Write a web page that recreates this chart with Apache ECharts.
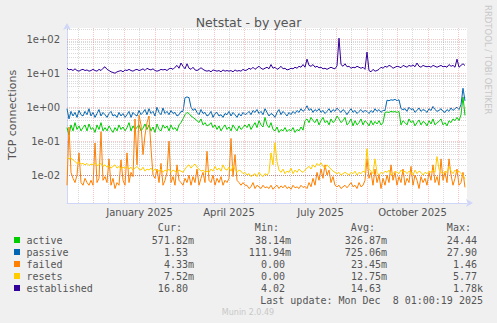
<!DOCTYPE html>
<html>
<head>
<meta charset="utf-8">
<script src="https://cdn.jsdelivr.net/npm/echarts@6/dist/echarts.min.js"></script>
<style>
  html, body { margin: 0; padding: 0; background: #F0F0F0; }
  #chart { width: 497px; height: 323px; }
</style>
</head>
<body>
<div id="chart"></div>
<script>
// Netstat, one sample every two days from 5 Nov 2024
const START = Date.UTC(2024, 10, 5);
const DAY = 86400000;
const STEP_DAYS = 2;

const seriesNames = ['active', 'passive', 'failed', 'resets', 'established'];
const seriesColors = ['#00CC00', '#0066B3', '#FF8000', '#FFCC00', '#330099'];

const active = [
  0.25, 0.15, 0.3, 0.2, 0.35, 0.22, 0.28, 0.2, 0.25, 0.3,
  0.2, 0.32, 0.22, 0.25, 0.18, 0.3, 0.22, 0.35, 0.2, 0.25,
  0.2, 0.28, 0.22, 0.18, 0.25, 0.2, 0.3, 0.22, 0.26, 0.2,
  0.25, 0.35, 0.2, 0.28, 0.22, 0.25, 0.3, 0.2, 0.24, 0.32,
  0.22, 0.3, 0.2, 0.26, 0.18, 0.32, 0.22, 0.2, 0.3, 0.24,
  0.28, 0.2, 0.3, 0.22, 0.25, 0.2, 0.3, 0.35, 0.45, 0.6,
  0.7, 0.65, 0.55, 0.5, 0.45, 0.4, 0.35, 0.45, 0.3, 0.35,
  0.28, 0.3, 0.35, 0.25, 0.3, 0.22, 0.28, 0.2, 0.25, 0.3,
  0.22, 0.26, 0.2, 0.3, 0.24, 0.2, 0.28, 0.22, 0.25, 0.3,
  0.25, 0.32, 0.22, 0.28, 0.35, 0.25, 0.4, 0.3, 0.26, 0.5,
  0.3, 0.25, 0.35, 0.22, 0.2, 0.26, 0.18, 0.22, 0.2, 0.25,
  0.19, 0.22, 0.2, 0.25, 0.18, 0.22, 0.2, 0.26, 0.21, 0.4,
  0.45, 0.35, 0.5, 0.4, 0.35, 0.45, 0.3, 0.4, 0.5, 0.35,
  0.4, 0.3, 0.45, 0.35, 0.4, 0.55, 0.45, 0.35, 0.4, 0.5,
  0.3, 0.35, 0.45, 0.28, 0.4, 0.3, 0.35, 0.45, 0.3, 0.4,
  0.35, 0.28, 0.4, 0.3, 0.38, 0.32, 0.4, 0.3, 0.35, 0.7,
  0.72, 0.7, 0.75, 0.72, 0.74, 0.7, 0.75, 0.3, 0.4, 0.35,
  0.3, 0.45, 0.35, 0.4, 0.28, 0.35, 0.42, 0.3, 0.38, 0.35,
  0.28, 0.4, 0.32, 0.45, 0.3, 0.35, 0.38, 0.45, 0.3, 0.35,
  0.28, 0.4, 0.35, 0.45, 0.4, 0.5, 0.4, 0.6, 2.0, 0.57
];

const passive = [
  0.9, 0.45, 0.75, 0.55, 0.7, 0.5, 0.8, 0.6, 0.55, 0.75,
  0.6, 0.9, 0.55, 0.7, 0.5, 0.65, 0.85, 0.55, 0.7, 0.6,
  0.5, 0.65, 0.75, 0.55, 0.6, 0.5, 0.7, 0.55, 0.65, 0.5,
  0.6, 0.75, 0.5, 0.7, 0.6, 0.55, 0.8, 0.6, 0.7, 0.85,
  0.6, 0.9, 0.65, 0.75, 0.55, 1.0, 0.7, 0.6, 0.95, 0.65,
  0.75, 0.6, 0.8, 0.65, 0.7, 0.55, 0.6, 0.75, 0.75, 1.9,
  2.0, 1.9, 1.0, 0.8, 0.9, 0.7, 0.6, 0.85, 0.65, 0.7,
  0.55, 0.6, 0.75, 0.5, 0.65, 0.7, 0.55, 0.6, 0.5, 0.65,
  0.6, 0.75, 0.55, 0.7, 0.6, 0.5, 0.65, 0.55, 0.7, 0.6,
  0.65, 0.75, 0.6, 0.8, 0.7, 0.85, 0.65, 0.75, 0.6, 0.9,
  0.7, 0.55, 0.65, 0.6, 0.5, 0.7, 0.85, 0.6, 0.75, 0.65,
  0.55, 0.7, 0.6, 0.75, 0.65, 0.8, 0.7, 0.9, 0.75, 0.85,
  1.1, 0.8, 0.9, 0.7, 0.85, 0.75, 0.9, 0.7, 0.8, 0.65,
  0.75, 0.9, 0.7, 0.85, 0.75, 0.95, 0.8, 0.7, 0.85, 0.75,
  0.6, 0.75, 0.9, 0.7, 0.8, 0.65, 0.75, 0.85, 0.7, 0.8,
  0.75, 0.65, 0.8, 0.7, 0.9, 0.75, 0.85, 0.7, 0.8, 0.8,
  1.6, 1.55, 1.65, 1.6, 1.7, 1.55, 1.65, 0.9, 0.85, 0.9,
  0.75, 1.0, 0.85, 0.9, 0.7, 0.8, 0.95, 0.75, 0.85, 0.8,
  0.7, 0.9, 0.8, 1.05, 0.85, 0.75, 0.8, 0.9, 0.75, 0.7,
  0.85, 0.75, 0.95, 0.8, 0.9, 1.0, 0.85, 1.2, 3.6, 1.53
];

const failed = [
  0.005, 0.26, 0.012, 0.008, 0.006, 0.01, 0.045, 0.006, 0.005, 0.008,
  0.006, 0.005, 0.007, 0.005, 0.088, 0.006, 0.008, 0.19, 0.007, 0.009,
  0.006, 0.03, 0.005, 0.008, 0.004, 0.006, 0.005, 0.028, 0.007, 0.005,
  0.045, 0.006, 0.012, 0.009, 0.45, 0.02, 0.58, 0.3, 0.04, 0.15,
  0.35, 0.55, 0.06, 0.01, 0.008, 0.015, 0.006, 0.022, 0.005, 0.007,
  0.012, 0.1, 0.006, 0.009, 0.005, 0.02, 0.007, 0.006, 0.005, 0.008,
  0.006, 0.01, 0.005, 0.009, 0.006, 0.015, 0.005, 0.008, 0.012, 0.006,
  0.05, 0.007, 0.006, 0.01, 0.005, 0.008, 0.006, 0.009, 0.005, 0.007,
  0.006, 0.008, 0.12, 0.009, 0.04, 0.007, 0.006, 0.005, 0.006, 0.005,
  0.005, 0.004, 0.0045, 0.006, 0.004, 0.005, 0.0045, 0.004, 0.005, 0.0042,
  0.0045, 0.004, 0.005, 0.0038, 0.0045, 0.005, 0.004, 0.0048, 0.0042, 0.005,
  0.004, 0.0045, 0.0038, 0.005, 0.0042, 0.0045, 0.004, 0.005, 0.0043, 0.0046,
  0.004, 0.006, 0.0045, 0.008, 0.005, 0.012, 0.007, 0.015, 0.008, 0.02,
  0.01, 0.014, 0.006, 0.009, 0.005, 0.0045, 0.005, 0.004, 0.0045, 0.005,
  0.0042, 0.005, 0.006, 0.0045, 0.005, 0.004, 0.006, 0.0045, 0.005, 0.007,
  0.03, 0.008, 0.012, 0.005, 0.015, 0.006, 0.01, 0.004, 0.008, 0.005,
  0.01, 0.006, 0.02, 0.007, 0.012, 0.005, 0.009, 0.006, 0.015, 0.005,
  0.008, 0.006, 0.018, 0.005, 0.01, 0.007, 0.004, 0.009, 0.006, 0.008,
  0.005, 0.012, 0.007, 0.02, 0.006, 0.009, 0.005, 0.03, 0.007, 0.012,
  0.006, 0.03, 0.01, 0.005, 0.008, 0.015, 0.005, 0.006, 0.012, 0.00433
];

const resets = [
  0.033, 0.03, 0.032, 0.028, 0.025, 0.022, 0.024, 0.021, 0.022, 0.02,
  0.022, 0.019, 0.021, 0.02, 0.023, 0.019, 0.02, 0.022, 0.018, 0.02,
  0.017, 0.019, 0.016, 0.018, 0.02, 0.016, 0.018, 0.015, 0.017, 0.016,
  0.018, 0.015, 0.017, 0.014, 0.016, 0.018, 0.015, 0.014, 0.017, 0.013,
  0.015, 0.014, 0.016, 0.013, 0.015, 0.014, 0.013, 0.015, 0.012, 0.014,
  0.013, 0.015, 0.012, 0.014, 0.013, 0.012, 0.014, 0.013, 0.012, 0.015,
  0.018, 0.02, 0.016, 0.019, 0.021, 0.017, 0.015, 0.013, 0.014, 0.012,
  0.013, 0.012, 0.015, 0.013, 0.018, 0.014, 0.016, 0.013, 0.02, 0.015,
  0.014, 0.017, 0.013, 0.019, 0.015, 0.012, 0.014, 0.013, 0.011, 0.012,
  0.01, 0.011, 0.009, 0.01, 0.011, 0.009, 0.012, 0.01, 0.009, 0.011,
  0.01, 0.012, 0.045, 0.02, 0.09, 0.025, 0.014, 0.012, 0.015, 0.011,
  0.013, 0.012, 0.016, 0.011, 0.014, 0.012, 0.015, 0.013, 0.012, 0.014,
  0.016, 0.018, 0.015, 0.02, 0.017, 0.022, 0.019, 0.023, 0.018, 0.016,
  0.02, 0.017, 0.015, 0.013, 0.012, 0.011, 0.012, 0.01, 0.011, 0.012,
  0.011, 0.01, 0.012, 0.011, 0.013, 0.01, 0.012, 0.011, 0.013, 0.012,
  0.06, 0.015, 0.013, 0.011, 0.03, 0.012, 0.01, 0.012, 0.011, 0.013,
  0.012, 0.014, 0.01, 0.011, 0.013, 0.012, 0.011, 0.014, 0.012, 0.013,
  0.011, 0.013, 0.012, 0.01, 0.014, 0.011, 0.013, 0.012, 0.01, 0.012,
  0.011, 0.013, 0.012, 0.014, 0.012, 0.035, 0.015, 0.012, 0.011, 0.013,
  0.012, 0.018, 0.013, 0.011, 0.014, 0.012, 0.013, 0.011, 0.01, 0.0075
];

const established = [
  14, 12.5, 13, 12, 13.5, 12, 11.5, 12.5, 13, 12,
  12.5, 11.5, 12, 13, 12, 11.5, 13, 12, 14, 15.5,
  13, 12, 11, 10.5, 10, 11, 11.5, 12, 11, 12.5,
  12, 13, 12, 11.5, 12.5, 13, 12, 12.5, 13.5, 12,
  14, 13, 12.5, 13.5, 12, 11.5, 12, 13, 12.5, 13,
  12, 13.5, 14, 13, 15, 17, 14, 20, 16, 13.5,
  19, 14, 13, 15, 12.5, 12, 13, 14.5, 13, 12,
  11.5, 12, 11, 12.5, 12, 11.5, 12, 11, 12.5, 11.5,
  12, 11.5, 12, 11, 12.5, 11.5, 12, 11.5, 13, 12,
  12.5, 14, 13, 15, 13, 14.5, 16, 14, 13, 14,
  15, 13.5, 18, 14, 15, 13, 14, 16, 13.5, 14,
  12.5, 13, 14, 13.5, 15, 14, 16, 15, 18, 15,
  26, 17, 16, 18, 15, 16, 14.5, 15, 13.5, 14,
  13, 14, 15, 14, 13.5, 16.5, 108, 18, 16, 19,
  15.5, 16, 14, 15, 14.5, 16, 15, 14, 15, 13,
  42, 12, 11, 13, 11.5, 12, 13, 15, 14, 16,
  15, 17, 16, 14, 15, 16, 15.5, 14.5, 17, 16,
  15, 17, 16, 17.5, 15.5, 20, 16, 15, 17, 16,
  15.5, 16, 15, 17, 16, 15, 16, 17, 15.5, 16,
  15, 18, 16, 17, 15, 26, 15, 17, 19, 16.8
];

const seriesValues = [active, passive, failed, resets, established];

// Legend statistics
const curVals = ['571.82m', '1.53', '4.33m', '7.52m', '16.80'];
const minVals = ['38.14m', '111.94m', '0.00', '0.00', '4.02'];
const avgVals = ['326.87m', '725.06m', '23.45m', '12.75m', '14.63'];
const maxVals = ['24.44', '27.90', '1.46', '5.77', '1.78k'];
const statHeaders = ['Cur:', 'Min:', 'Avg:', 'Max:'];
const lastUpdate = 'Last update: Mon Dec  8 01:00:19 2025';

// Axis labels
const monthLabels = ['January 2025', 'April 2025', 'July 2025', 'October 2025'];
const monthLabelMonths = [[2025, 0], [2025, 3], [2025, 6], [2025, 9]];
const yTickValues = [0.01, 0.1, 1, 10, 100];

const dayOf = (y, m, d) => (Date.UTC(y, m, d) - START) / DAY;
const X_MAX = 400;
const Y_MIN = 0.0015, Y_MAX = 215;

const labelPos = monthLabelMonths.map(([y, m]) => (dayOf(y, m, 1) + dayOf(y, m + 1, 1)) / 2);

// Grid lines: month starts (major), mid-month (minor), decades and their multiples
const majorX = [], minorX = [];
for (let k = 0; k < 15; k++) {
  const y = 2024 + Math.floor((10 + k) / 12), m = (10 + k) % 12;
  const s = dayOf(y, m, 1), h = dayOf(y, m, 16);
  if (s > 0 && s < X_MAX) majorX.push(s);
  if (h > 0 && h < X_MAX) minorX.push(h);
}
const majorY = [], minorY = [];
for (let e = -3; e <= 2; e++) {
  for (let k = 1; k <= 9; k++) {
    const v = k * Math.pow(10, e);
    if (v <= Y_MIN || v >= Y_MAX) continue;
    (k === 1 ? majorY : minorY).push(v);
  }
}

const FONT = 'DejaVu Sans';
const MONO = 'DejaVu Sans Mono';
const TEXT = '#555555';
const AXIS = '#CFD6F8';
const minorStyle = { color: 'rgba(140,140,140,0.32)', type: 'dotted', width: 1 };
const majorStyle = { color: 'rgba(240,120,120,0.42)', type: 'dotted', width: 1 };

const gridLines = []
  .concat(minorY.map(v => ({ yAxis: v, lineStyle: minorStyle })))
  .concat(minorX.map(v => ({ xAxis: v, lineStyle: minorStyle })))
  .concat(majorY.map(v => ({ yAxis: v, lineStyle: majorStyle })))
  .concat(majorX.map(v => ({ xAxis: v, lineStyle: majorStyle })));

const expLabel = v => {
  const e = Math.round(Math.log10(v));
  return '1e' + (e < 0 ? '-' : '+') + String(Math.abs(e)).padStart(2, '0');
};

const series = [{
  name: 'grid',
  type: 'line',
  data: [],
  z: 1,
  silent: true,
  markLine: {
    silent: true,
    symbol: 'none',
    animation: false,
    label: { show: false },
    data: gridLines
  }
}].concat(seriesNames.map((name, s) => ({
  name,
  type: 'line',
  z: 2 + s,
  showSymbol: false,
  animation: false,
  lineStyle: { color: seriesColors[s], width: 1 },
  itemStyle: { color: seriesColors[s] },
  data: seriesValues[s].map((v, i) => [i * STEP_DAYS, v])
})));

// Legend block below the plot
const COLS = [194, 291, 387, 483];
const CH = 6.02;
const graphics = [];
statHeaders.forEach((h, c) => {
  graphics.push({ type: 'text', x: COLS[c] - 2 * CH, y: 227,
    style: { text: h, font: '10px ' + MONO, fill: TEXT, align: 'right', verticalAlign: 'middle' } });
});
const statCols = [curVals, minVals, avgVals, maxVals];
seriesNames.forEach((name, r) => {
  const yy = 240 + r * 12;
  graphics.push({ type: 'rect', shape: { x: 14, y: yy - 3, width: 6, height: 6 },
    style: { fill: seriesColors[r] } });
  graphics.push({ type: 'text', x: 26.5, y: yy,
    style: { text: name, font: '10px ' + MONO, fill: TEXT, align: 'left', verticalAlign: 'middle' } });
  statCols.forEach((col, c) => {
    const t = col[r];
    const pad = /[a-z]$/i.test(t) ? 0 : CH;
    graphics.push({ type: 'text', x: COLS[c] - pad, y: yy,
      style: { text: t, font: '10px ' + MONO, fill: TEXT, align: 'right', verticalAlign: 'middle' } });
  });
});
graphics.push({ type: 'text', x: 483, y: 300,
  style: { text: lastUpdate, font: '10px ' + MONO, fill: TEXT, align: 'right', verticalAlign: 'middle' } });
graphics.push({ type: 'text', x: 248, y: 312,
  style: { text: 'Munin 2.0.49', font: '8px ' + FONT, fill: '#C8C8C8', align: 'center', verticalAlign: 'middle' } });
graphics.push({ type: 'text', x: 12, y: 115, rotation: Math.PI / 2,
  style: { text: 'TCP connections', font: '11px ' + FONT, fill: TEXT, align: 'center', verticalAlign: 'middle' } });
graphics.push({ type: 'text', x: 488, y: 5, rotation: -Math.PI / 2,
  style: { text: 'RRDTOOL / TOBI OETIKER', font: '8.5px ' + FONT, fill: '#C8C8C8', align: 'left', verticalAlign: 'middle' } });

const chart = echarts.init(document.getElementById('chart'), null, { renderer: 'svg' });
chart.setOption({
  backgroundColor: '#F0F0F0',
  animation: false,
  title: {
    text: 'Netstat - by year',
    left: 'center',
    top: 11,
    textStyle: { fontFamily: FONT, fontSize: 12.5, fontWeight: 'normal', color: TEXT }
  },
  grid: {
    left: 67, top: 28, width: 400, height: 175,
    show: true, backgroundColor: '#FFFFFF', borderWidth: 0
  },
  xAxis: {
    type: 'value',
    min: 0, max: X_MAX,
    axisLine: { show: true, lineStyle: { color: AXIS, width: 1 },
      symbol: ['none', 'arrow'], symbolSize: [6, 7], symbolOffset: [0, 6] },
    axisTick: { show: false },
    splitLine: { show: false },
    axisLabel: {
      customValues: labelPos,
      formatter: v => {
        const idx = labelPos.findIndex(p => Math.abs(p - v) < 0.01);
        return idx >= 0 ? monthLabels[idx] : '';
      },
      margin: 4,
      color: TEXT, fontFamily: FONT, fontSize: 10
    }
  },
  yAxis: {
    type: 'log',
    logBase: 10,
    min: Y_MIN, max: Y_MAX,
    axisLine: { show: true, onZero: false, lineStyle: { color: AXIS, width: 1 },
      symbol: ['none', 'arrow'], symbolSize: [6, 7], symbolOffset: [0, 5] },
    axisTick: { show: false },
    splitLine: { show: false },
    minorSplitLine: { show: false },
    axisLabel: {
      customValues: yTickValues,
      formatter: expLabel,
      margin: 7,
      color: TEXT, fontFamily: FONT, fontSize: 10
    }
  },
  graphic: graphics,
  series
});
</script>
</body>
</html>
